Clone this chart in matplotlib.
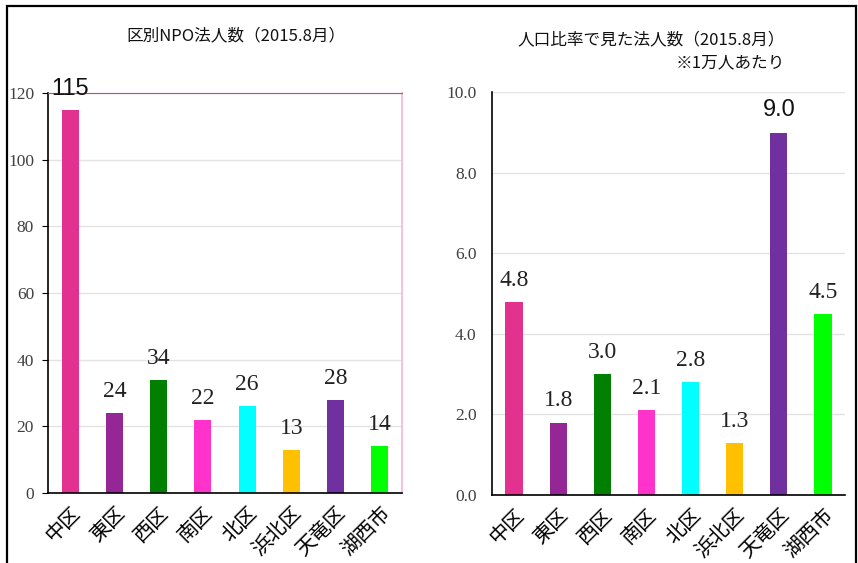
import matplotlib
matplotlib.use("Agg")
import matplotlib.pyplot as plt
from matplotlib.patches import Rectangle

categories = ["中区", "東区", "西区", "南区", "北区", "浜北区", "天竜区", "湖西市"]
npo_counts = [115, 24, 34, 22, 26, 13, 28, 14]
per_10k = [4.8, 1.8, 3.0, 2.1, 2.8, 1.3, 9.0, 4.5]
bar_colors = ["#E3318F", "#952695", "#007F00", "#FF33CC", "#00FFFF", "#FFC000", "#7030A0", "#00FF00"]
left_ticks = [0, 20, 40, 60, 80, 100, 120]
right_ticks = [0.0, 2.0, 4.0, 6.0, 8.0, 10.0]

plt.rcParams['font.family'] = ['Noto Sans CJK JP', 'DejaVu Sans']
CJK = ['Noto Sans CJK JP', 'DejaVu Sans']
SERIF = ['Liberation Serif', 'DejaVu Serif']
NARROW = ['Liberation Sans Narrow', 'Liberation Sans', 'DejaVu Sans']

fig = plt.figure(figsize=(8.58, 5.63), dpi=100)

# outer frame
fig.patches.append(Rectangle((7/858, -0.05), (856-7)/858, 1 - 6/563 + 0.05,
                             transform=fig.transFigure, fill=False,
                             edgecolor='black', linewidth=1.6, zorder=0))

ax1 = fig.add_axes([48/858, 1-493/563, 354/858, 400/563])
ax2 = fig.add_axes([492/858, 1-495/563, 353/858, 402.7/563])

x = list(range(len(categories)))

def style(ax, ticks, fmt):
    ax.set_xlim(-0.5, len(categories) - 0.5)
    ax.set_ylim(ticks[0], ticks[-1])
    ax.set_yticks(ticks)
    ax.set_yticklabels([fmt.format(t) for t in ticks], family=SERIF, fontsize=12.5, color='#404040')
    ax.yaxis.grid(True, color='#E3E3E3', linewidth=1.0)
    ax.set_axisbelow(True)
    ax.set_xticks(x)
    ax.set_xticklabels(categories, rotation=45, ha='right', va='top', rotation_mode='anchor',
                       family=CJK, fontsize=14.5)
    ax.tick_params(axis='x', length=0, pad=7)
    ax.spines['left'].set_color('black')
    ax.spines['bottom'].set_color('black')
    ax.spines['left'].set_linewidth(1.2)
    ax.spines['bottom'].set_linewidth(1.2)

# Left chart
ax1.bar(x, npo_counts, width=0.385, color=bar_colors, zorder=2)
style(ax1, left_ticks, "{:d}")
ax1.tick_params(axis='y', length=4, pad=6, color='black')
ax1.spines['top'].set_color('#D0408A')
ax1.spines['right'].set_color('#F7B6D8')
ax1.spines['right'].set_linewidth(1.2)
for i, v in enumerate(npo_counts):
    if i == 0:
        ax1.annotate(str(v), (i, v), xytext=(0, 7), textcoords='offset points',
                     ha='center', va='bottom', family=NARROW, fontsize=17, color='#111111')
    else:
        ax1.annotate(str(v), (i, v), xytext=(0, 8), textcoords='offset points',
                     ha='center', va='bottom', family=SERIF, fontsize=17, color='#222222')
fig.text(236/858, 1-36/563, "区別NPO法人数（2015.8月）", ha='center', va='center',
         family=CJK, fontsize=12, color='#111111')

# Right chart
ax2.bar(x, per_10k, width=0.39, color=bar_colors, zorder=2)
style(ax2, right_ticks, "{:.1f}")
ax2.tick_params(axis='y', length=0, pad=11)
ax2.spines['top'].set_visible(False)
ax2.spines['right'].set_visible(False)
for i, v in enumerate(per_10k):
    if i == 6:
        ax2.annotate(f"{v:.1f}", (i, v), xytext=(0, 8), textcoords='offset points',
                     ha='center', va='bottom', family=NARROW, fontsize=17, color='#111111')
    else:
        ax2.annotate(f"{v:.1f}", (i, v), xytext=(0, 8), textcoords='offset points',
                     ha='center', va='bottom', family=SERIF, fontsize=17, color='#222222')
fig.text(785/858, 1-40/563, "人口比率で見た法人数（2015.8月）", ha='right', va='center',
         family=CJK, fontsize=12, color='#111111')
fig.text(785/858, 1-63/563, "※1万人あたり", ha='right', va='center',
         family=CJK, fontsize=12, color='#111111')

fig.savefig("out.png", dpi=100)
